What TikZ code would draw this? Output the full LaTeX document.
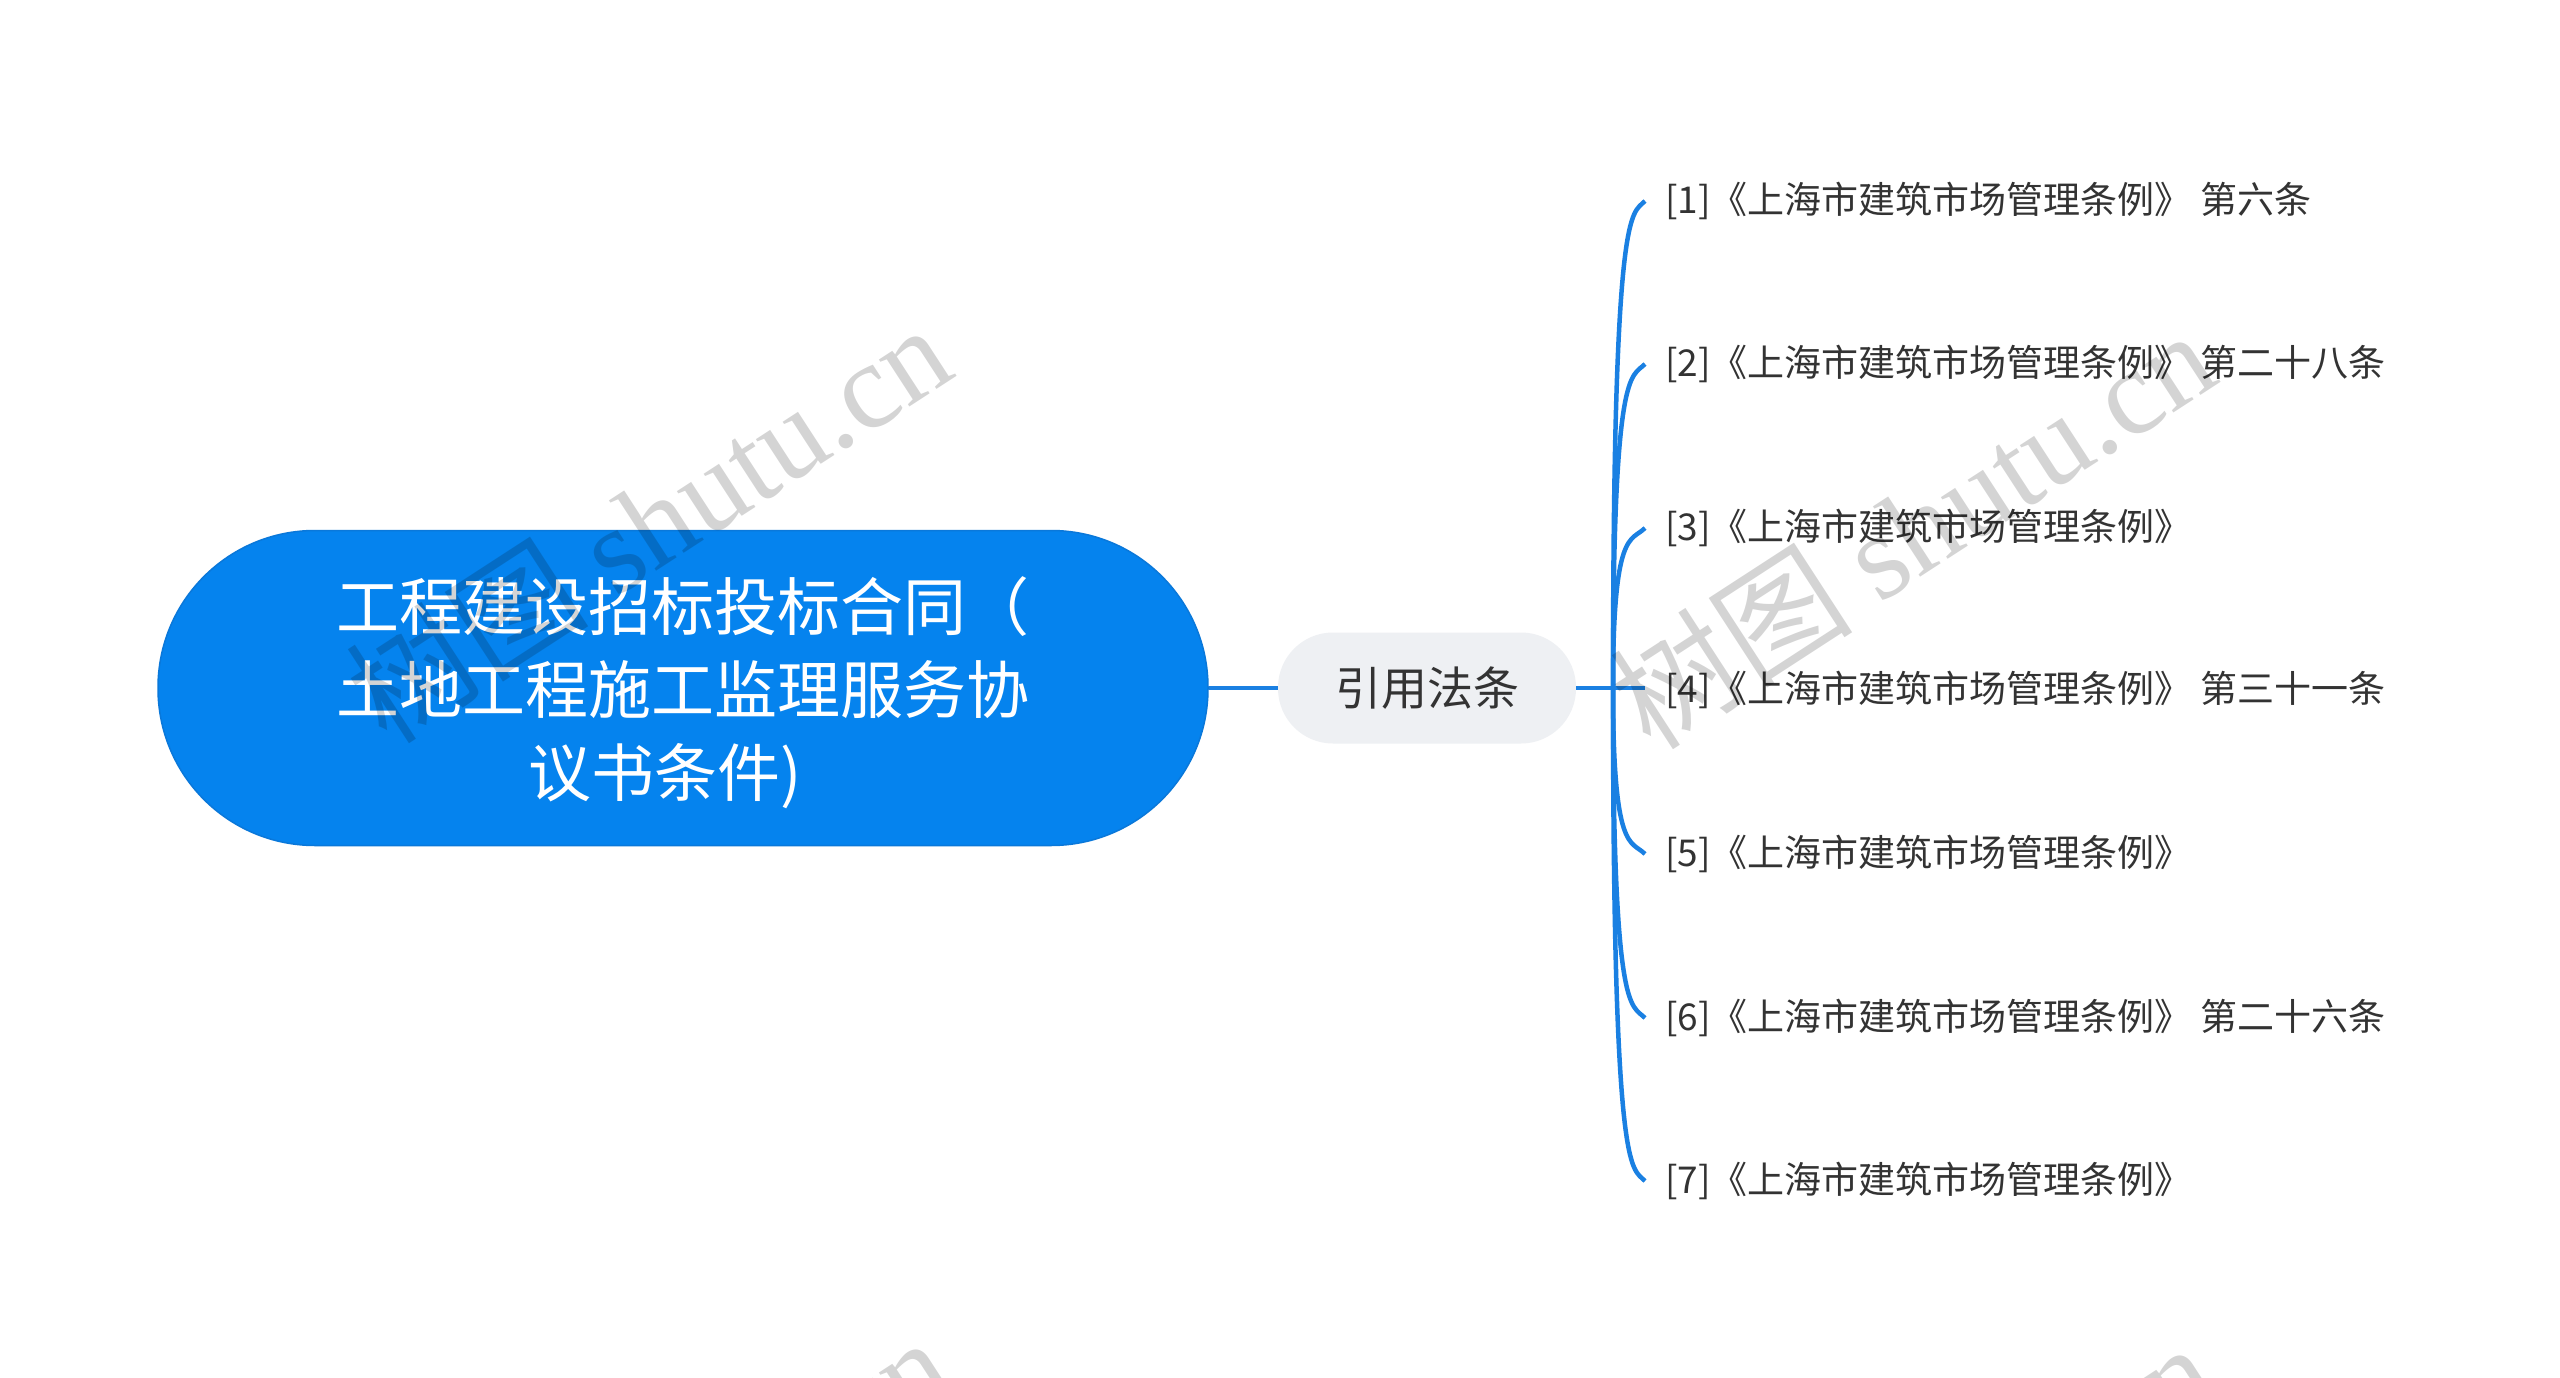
\documentclass[tikz,border=0pt]{standalone}
\usepackage{fontspec}
\setmainfont{Noto Sans CJK SC}
\newfontfamily\wmfont{Liberation Serif}
\usetikzlibrary{calc}
\definecolor{mainblue}{HTML}{0583EE}
\definecolor{rimblue}{HTML}{0A78DA}
\definecolor{linkblue}{HTML}{1A80E2}
\definecolor{subgray}{HTML}{EEF0F3}
\definecolor{txt}{HTML}{333333}
\tikzset{
  rootbox/.style={shape=rectangle, fill=mainblue, draw=rimblue, line width=1.5pt,
    minimum width=1050pt, minimum height=315pt, rounded corners=157pt, inner sep=0pt,
    text=white, align=center, font={\fontsize{63pt}{83pt}\selectfont}},
  subbox/.style={shape=rectangle, fill=subgray, minimum width=298pt, minimum height=111pt,
    rounded corners=55pt, inner sep=0pt, text=txt, font={\fontsize{46pt}{55pt}\selectfont}},
  leafbox/.style={anchor=west, inner ysep=0pt, inner xsep=20pt, text=txt,
    font={\fontsize{37pt}{44pt}\selectfont}},
  link/.style={draw=linkblue, line width=4.5pt},
  wmark/.style={text=black, opacity=0.17, font={\fontsize{122pt}{130pt}\selectfont}, inner sep=0pt}
}
\begin{document}
\begin{tikzpicture}[x=1pt,y=-1pt]
\useasboundingbox (0,0) rectangle (2560,1378);
\fill[white] (0,0) rectangle (2560,1378);

\node[rootbox] (root) at (683,688) {};
\node[text=white, align=center, font={\fontsize{63pt}{83pt}\selectfont}] (roottext) at (683,693)
  {工程建设招标投标合同（\\土地工程施工监理服务协\\议书条件)\hspace*{36pt}};
\node[subbox] (sub) at (1427,688) {引用法条};
\coordinate (hub) at (1613,688);

\node[leafbox] (l1) at (1645,201) {[1]《上海市建筑市场管理条例》 第六条};
\node[leafbox] (l2) at (1645,364) {[2]《上海市建筑市场管理条例》 第二十八条};
\node[leafbox] (l3) at (1645,528) {[3]《上海市建筑市场管理条例》};
\node[leafbox] (l4) at (1645,690) {[4]《上海市建筑市场管理条例》 第三十一条};
\node[leafbox] (l5) at (1645,854) {[5]《上海市建筑市场管理条例》};
\node[leafbox] (l6) at (1645,1018) {[6]《上海市建筑市场管理条例》 第二十六条};
\node[leafbox] (l7) at (1645,1181) {[7]《上海市建筑市场管理条例》};

\draw[link] (root.east) -- (sub.west);
\draw[link] (sub.east) -- (hub) -- (hub -| l4.west);
\foreach \n in {l1,l2,l3}{
  \draw[link] (hub) .. controls (hub |- \n.west) and ($(\n.west)+(-14,14)$) .. (\n.west);
}
\foreach \n in {l5,l6,l7}{
  \draw[link] (hub) .. controls (hub |- \n.west) and ($(\n.west)+(-14,-14)$) .. (\n.west);
}

\begin{scope}
\clip (0,0) rectangle (2560,1378);
\node[wmark, rotate=33] (wm1) at (648,522) {树图 {\wmfont shutu.cn}};
\node[wmark, rotate=33] (wm2) at (1912,528) {树图 {\wmfont shutu.cn}};
\node[wmark, rotate=33] (wm3) at (648,1535) {树图 {\wmfont shutu.cn}};
\node[wmark, rotate=33] (wm4) at (1912,1541) {树图 {\wmfont shutu.cn}};
\end{scope}
\end{tikzpicture}
\end{document}
